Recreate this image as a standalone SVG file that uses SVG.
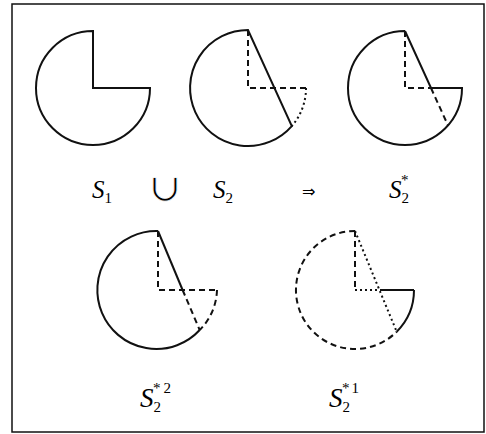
<svg xmlns="http://www.w3.org/2000/svg" width="486" height="434" viewBox="0 0 486 434">
<style>
.s{fill:none;stroke:#111;stroke-width:2;stroke-linejoin:miter}
.d{fill:none;stroke:#111;stroke-width:2;stroke-dasharray:6 4}
.o{fill:none;stroke:#111;stroke-width:2;stroke-dasharray:2 3}
.t{font-family:"Liberation Serif","Times New Roman",serif;font-size:25px;fill:#000}
.b{font-size:27px}
.i{font-style:italic}
.sub{font-size:15px}
.sup{font-size:15px}
.u{font-family:"DejaVu Serif",serif;font-size:38px;fill:#000;stroke:#fff;stroke-width:0.8;paint-order:fill}
</style>
<rect x="12" y="4" width="472" height="428" fill="#fff" stroke="#111" stroke-width="1.5"/>
<g id="s1">
<path class="s" d="M93,31 A57,57 0 1 0 150,88 L93,88 Z"/>
</g>
<g id="s2">
<path class="s" d="M248,30 A58,58 0 1 0 291.8,126.1 Z"/>
<path class="d" d="M248,30 V88 H306"/>
<path class="o" d="M306,88 A58,58 0 0 1 291.8,126.1"/>
</g>
<g id="s2star">
<path class="s" d="M405,31 L431,88 H462 A57,57 0 1 1 405,31"/>
<path class="d" d="M405,31 V88 H431"/>
<path class="d" d="M431,88 L448,125.4"/>
</g>
<g id="s2star2">
<path class="s" d="M158,231 A59,59 0 1 0 199.7,330"/>
<path class="s" d="M158,231 L182.6,290"/>
<path class="d" d="M158,231 V290 H217"/>
<path class="d" d="M182.6,290 L199.7,330"/>
<path class="d" d="M217,290 A59,59 0 0 1 199.7,330"/>
</g>
<g id="s2star1">
<path class="d" d="M355,231 A59,59 0 1 0 396.7,331.7"/>
<path class="s" d="M414,290 A59,59 0 0 1 396.7,331.7"/>
<path class="s" d="M380,290 H414"/>
<path class="d" d="M355,231 V290"/>
<path class="o" d="M355,290 H380"/>
<path class="o" d="M355,231 L396.7,331.7"/>
</g>
<g id="labels">
<text class="t" x="92" y="198"><tspan class="i">S</tspan><tspan class="sub" dy="5">1</tspan></text>
<text class="u" x="149" y="201">∪</text>
<text class="t" x="213" y="198"><tspan class="i">S</tspan><tspan class="sub" dy="5">2</tspan></text>
<text x="302" y="197" style="font-family:'DejaVu Sans',sans-serif;font-size:16px;fill:#000">⇒</text>
<text class="t" x="389" y="198"><tspan class="i">S</tspan><tspan class="sub" dy="5">2</tspan><tspan class="sup" dx="-8" dy="-18">*</tspan></text>
<text class="t b" x="140" y="407"><tspan class="i">S</tspan><tspan class="sub" dy="5">2</tspan><tspan class="sup" dx="-8" dy="-19">*</tspan><tspan class="sup" dx="3" dy="0">2</tspan></text>
<text class="t b" x="329" y="407"><tspan class="i">S</tspan><tspan class="sub" dy="5">2</tspan><tspan class="sup" dx="-8" dy="-19">*</tspan><tspan class="sup" dx="2" dy="0">1</tspan></text>
</g>
</svg>
